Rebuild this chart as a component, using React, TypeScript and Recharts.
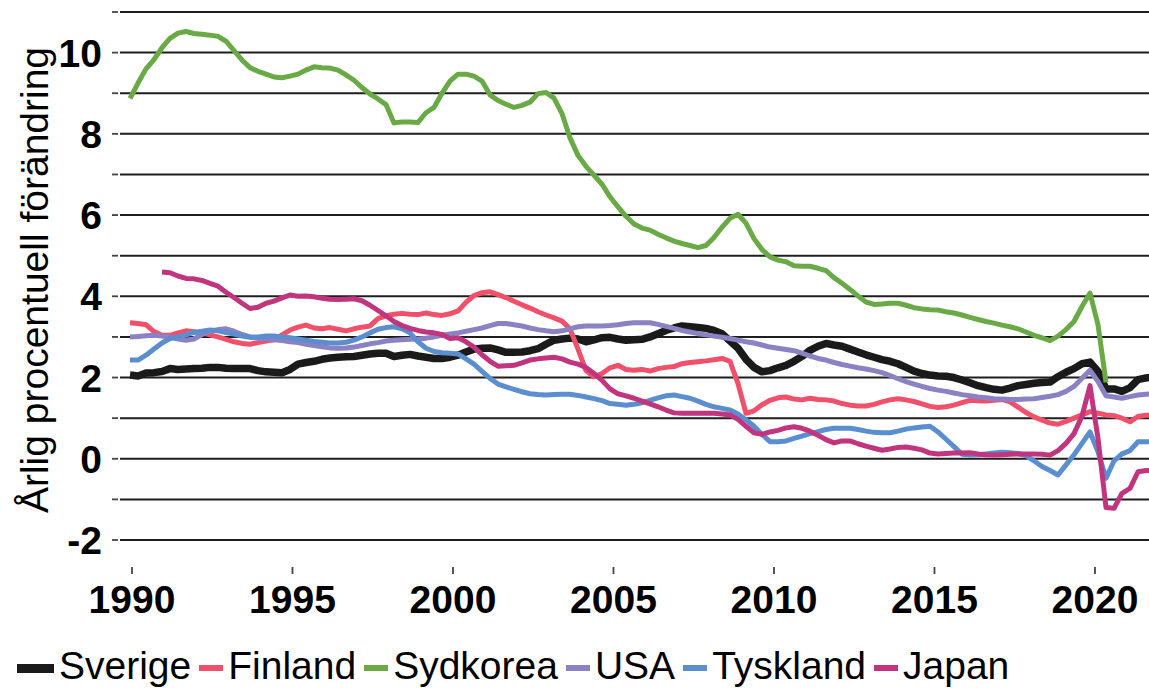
import React from 'react';
import { LineChart, Line, XAxis, YAxis, CartesianGrid, Label } from 'recharts';

const FONT = '"Liberation Sans", Arial, Helvetica, sans-serif';

// Quarterly observation points, 1990 Q1 onwards
const quarters: number[] = Array.from({ length: 129 }, (_, i) => 1990 + i / 4);
const yearTicks = [1990, 1995, 2000, 2005, 2010, 2015, 2020];
const valueTicks = [-2, -1, 0, 1, 2, 3, 4, 5, 6, 7, 8, 9, 10, 11];
const yTitle = 'Årlig procentuell förändring';

const sverige = [
  2.06, 2.04, 2.11, 2.12, 2.15, 2.22, 2.2, 2.21, 2.22, 2.23,
  2.25, 2.25, 2.23, 2.22, 2.22, 2.22, 2.17, 2.14, 2.13, 2.12,
  2.2, 2.33, 2.37, 2.4, 2.45, 2.48, 2.5, 2.51, 2.52, 2.55,
  2.58, 2.6, 2.6, 2.52, 2.55, 2.57, 2.53, 2.5, 2.47, 2.47,
  2.5, 2.55, 2.63, 2.7, 2.72, 2.73, 2.68, 2.62, 2.62, 2.63,
  2.66, 2.71, 2.82, 2.92, 2.95, 2.97, 2.95, 2.88, 2.93, 2.98,
  2.99, 2.95, 2.92, 2.93, 2.94, 3.0, 3.08, 3.16, 3.22, 3.27,
  3.25, 3.23, 3.21, 3.16, 3.08, 2.9, 2.72, 2.45, 2.25, 2.14,
  2.17, 2.24, 2.3, 2.4, 2.52, 2.67, 2.77, 2.84, 2.8, 2.77,
  2.7, 2.63, 2.56, 2.5, 2.44, 2.4, 2.34, 2.25, 2.16, 2.1,
  2.06, 2.04, 2.03, 2.0, 1.94, 1.87, 1.8, 1.75, 1.71, 1.69,
  1.74, 1.8, 1.83, 1.86, 1.88, 1.89, 2.02, 2.13, 2.22, 2.34,
  2.38, 2.15, 1.72, 1.72, 1.66, 1.75, 1.95, 1.99, 2.02,
];

const finland = [
  3.35, 3.33, 3.3, 3.13, 3.04, 3.04, 3.1, 3.15, 3.13, 3.1,
  3.05, 3.0, 2.94, 2.88, 2.84, 2.82, 2.86, 2.9, 2.93, 3.05,
  3.17, 3.24, 3.29, 3.22, 3.2, 3.23, 3.19, 3.15, 3.2, 3.24,
  3.27, 3.45, 3.52, 3.56, 3.58, 3.56, 3.55, 3.59, 3.55, 3.53,
  3.57, 3.64, 3.85, 4.02, 4.09, 4.11, 4.04, 3.97, 3.88, 3.79,
  3.71, 3.62, 3.54, 3.47, 3.39, 3.2, 2.7, 2.17, 2.02, 2.1,
  2.24, 2.3, 2.2, 2.18, 2.2, 2.16, 2.22, 2.25, 2.27, 2.34,
  2.37, 2.39, 2.41, 2.44, 2.47, 2.4, 1.85, 1.12, 1.18, 1.33,
  1.44, 1.5, 1.52, 1.47, 1.45, 1.49, 1.46, 1.45, 1.42, 1.36,
  1.32, 1.3, 1.3, 1.34, 1.4, 1.45, 1.48, 1.45, 1.41, 1.35,
  1.29, 1.26, 1.28, 1.32, 1.38, 1.44, 1.43, 1.42, 1.44, 1.46,
  1.4, 1.27, 1.14, 1.03, 0.95, 0.88, 0.85, 0.92, 1.0, 1.08,
  1.16, 1.12, 1.08, 1.06, 1.0, 0.91, 1.04, 1.07, 1.08,
];

const sydkorea: (number | null)[] = [
  8.87, 9.25, 9.6, 9.83, 10.12, 10.35, 10.48, 10.52, 10.47, 10.45,
  10.43, 10.4, 10.28, 10.05, 9.82, 9.63, 9.54, 9.47, 9.4, 9.38,
  9.42, 9.47, 9.57, 9.65, 9.63, 9.62, 9.57, 9.45, 9.32, 9.14,
  8.98, 8.86, 8.72, 8.27, 8.29, 8.29, 8.28, 8.52, 8.65, 9.0,
  9.3, 9.47, 9.47, 9.42, 9.3, 8.96, 8.82, 8.73, 8.65, 8.7,
  8.78, 8.99, 9.02, 8.88, 8.5, 7.9, 7.47, 7.2, 6.98, 6.76,
  6.45, 6.2, 5.97, 5.78, 5.68, 5.63, 5.53, 5.44, 5.36, 5.3,
  5.25, 5.2, 5.25, 5.45, 5.7, 5.92, 6.02, 5.8, 5.42, 5.15,
  4.97, 4.89, 4.85, 4.75, 4.74, 4.74, 4.69, 4.63, 4.46, 4.32,
  4.17, 4.01, 3.86, 3.8, 3.81, 3.83, 3.83, 3.78, 3.72, 3.69,
  3.67, 3.66, 3.62, 3.59, 3.54, 3.48, 3.43, 3.38, 3.34, 3.29,
  3.25, 3.2, 3.12, 3.04, 2.98, 2.91, 3.02, 3.18, 3.38, 3.75,
  4.08, 3.3, 1.88, null, null, null, null, null, null,
];

const usa = [
  3.0, 3.01, 3.03, 3.04, 3.02, 2.99, 2.95, 2.92, 2.95, 3.06,
  3.14, 3.18, 3.2, 3.14, 3.06, 3.0, 2.97, 2.95, 2.93, 2.91,
  2.88, 2.86, 2.82, 2.79, 2.76, 2.73, 2.72, 2.73, 2.75, 2.79,
  2.83, 2.86, 2.9, 2.92, 2.93, 2.94, 2.95, 2.97, 3.0, 3.04,
  3.07, 3.1, 3.14, 3.18, 3.22, 3.28, 3.33, 3.33, 3.3, 3.27,
  3.22, 3.18, 3.15, 3.13, 3.15, 3.2, 3.25, 3.27, 3.27, 3.27,
  3.28, 3.3, 3.33, 3.35, 3.35, 3.35, 3.31, 3.26, 3.21, 3.16,
  3.12, 3.08, 3.05, 3.02, 2.99, 2.96, 2.92, 2.88, 2.85, 2.8,
  2.75, 2.72, 2.69, 2.66, 2.6, 2.53, 2.47, 2.43, 2.37, 2.32,
  2.28, 2.24, 2.21, 2.17, 2.12, 2.05, 1.97, 1.9, 1.84, 1.78,
  1.73, 1.69, 1.66, 1.62, 1.58, 1.55, 1.52, 1.5, 1.48, 1.47,
  1.46, 1.46, 1.47, 1.48, 1.51, 1.54, 1.58, 1.66, 1.78, 1.98,
  2.18, 1.9, 1.55, 1.52, 1.49, 1.53, 1.57, 1.59, 1.6,
];

const tyskland = [
  2.43, 2.43, 2.55, 2.7, 2.85, 2.96, 3.0, 3.05, 3.11, 3.14,
  3.17, 3.15, 3.11, 3.07, 3.02, 2.99, 3.0, 3.02, 3.02, 3.0,
  2.98, 2.95, 2.92, 2.89, 2.87, 2.85, 2.85, 2.87, 2.92, 3.0,
  3.1, 3.19, 3.23, 3.25, 3.2, 3.1, 2.88, 2.72, 2.64, 2.61,
  2.6, 2.58, 2.46, 2.33, 2.15, 1.98, 1.84, 1.77, 1.71, 1.65,
  1.6, 1.58, 1.57, 1.58, 1.59, 1.59, 1.56, 1.52, 1.48, 1.43,
  1.36, 1.34, 1.32, 1.34, 1.38, 1.44, 1.5, 1.55, 1.57, 1.53,
  1.49, 1.42, 1.34, 1.28, 1.24, 1.2, 1.1, 0.96, 0.8, 0.6,
  0.42, 0.42, 0.44, 0.5, 0.56, 0.62, 0.67, 0.72, 0.75, 0.75,
  0.75, 0.72, 0.68, 0.65, 0.64, 0.64, 0.68, 0.73, 0.76, 0.78,
  0.8, 0.66, 0.48, 0.3, 0.11, 0.09, 0.1, 0.12, 0.14, 0.16,
  0.15, 0.13, 0.08, -0.05, -0.19, -0.29, -0.4, -0.15, 0.1, 0.38,
  0.66, 0.17, -0.48, -0.05, 0.12, 0.2, 0.42, 0.42, 0.42,
];

const japan: (number | null)[] = [
  null, null, null, null, 4.6, 4.58, 4.5, 4.44, 4.43, 4.39,
  4.32, 4.25, 4.1, 3.97, 3.83, 3.7, 3.73, 3.83, 3.88, 3.96,
  4.03, 4.0, 4.01, 3.99, 3.95, 3.93, 3.92, 3.93, 3.94, 3.89,
  3.78, 3.65, 3.52, 3.38, 3.28, 3.21, 3.16, 3.12, 3.1, 3.06,
  2.96, 2.98, 2.88, 2.75, 2.56, 2.4, 2.28, 2.29, 2.3, 2.36,
  2.43, 2.46, 2.48, 2.5, 2.46, 2.38, 2.33, 2.25, 2.1, 1.93,
  1.72, 1.6, 1.55, 1.49, 1.42, 1.35, 1.28, 1.2, 1.13, 1.12,
  1.12, 1.12, 1.12, 1.12, 1.1, 1.08, 0.97, 0.8, 0.64, 0.6,
  0.66, 0.7, 0.76, 0.79, 0.75, 0.68, 0.58, 0.47, 0.39, 0.44,
  0.44, 0.37, 0.31, 0.26, 0.21, 0.24, 0.28, 0.29, 0.26, 0.22,
  0.14, 0.12, 0.13, 0.14, 0.14, 0.15, 0.12, 0.1, 0.09, 0.1,
  0.11, 0.12, 0.12, 0.12, 0.11, 0.09, 0.2, 0.38, 0.62, 1.05,
  1.8, 0.5, -1.2, -1.22, -0.85, -0.73, -0.32, -0.29, -0.28,
];

const seriesDefs = [
  { key: 'sverige', name: 'Sverige', values: sverige, color: '#1a1a1a', width: 7.5, swatchW: 37, swatchH: 9 },
  { key: 'finland', name: 'Finland', values: finland, color: '#f0506a', width: 5, swatchW: 24, swatchH: 6 },
  { key: 'sydkorea', name: 'Sydkorea', values: sydkorea, color: '#6aaa46', width: 5, swatchW: 24, swatchH: 6 },
  { key: 'usa', name: 'USA', values: usa, color: '#8a82c2', width: 5, swatchW: 24, swatchH: 6 },
  { key: 'tyskland', name: 'Tyskland', values: tyskland, color: '#5a8ecf', width: 5, swatchW: 24, swatchH: 6 },
  { key: 'japan', name: 'Japan', values: japan, color: '#c1357f', width: 5, swatchW: 24, swatchH: 6 },
];

const data = quarters.map((x, i) => {
  const row: Record<string, number | null> = { x };
  seriesDefs.forEach((s) => {
    row[s.key] = s.values[i] ?? null;
  });
  return row;
});

const YTick = (props: any) => {
  const { y, payload } = props;
  const v = payload.value as number;
  const show = v % 2 === 0 && v <= 10;
  return (
    <g>
      <line x1={112} x2={118} y1={y} y2={y} stroke="#444" strokeWidth={1.8} />
      {show ? (
        <text x={102} y={y + 14} textAnchor="end" fontFamily={FONT} fontSize={39} fontWeight="bold" fill="#000">
          {v}
        </text>
      ) : null}
    </g>
  );
};

const XTick = (props: any) => {
  const { x, payload } = props;
  return (
    <g>
      <line x1={x} x2={x} y1={567} y2={574} stroke="#444" strokeWidth={1.8} />
      <text x={x} y={613} textAnchor="middle" fontFamily={FONT} fontSize={39} fontWeight="bold" fill="#000">
        {Math.round(payload.value)}
      </text>
    </g>
  );
};

const TitleLabel = () => (
  <text
    transform="translate(48,280) rotate(-90)"
    textAnchor="middle"
    fontFamily={FONT}
    fontSize={39}
    fill="#000"
  >
    {yTitle}
  </text>
);

export default function App() {
  return (
    <div style={{ position: 'absolute', left: 0, top: 0, width: 1149, height: 689, background: '#fff', overflow: 'hidden' }}>
      <LineChart width={1149} height={689} data={data} margin={{ top: 12, right: 0, bottom: 0, left: 0 }}>
        <CartesianGrid vertical={false} stroke="#1e1e1e" strokeWidth={2} />
        <XAxis
          type="number"
          dataKey="x"
          domain={[1989.6875, 2021.84375]}
          allowDataOverflow
          ticks={yearTicks.map((yr) => yr + 0.0625 + 0.0031 * (yr - 1990))}
          interval={0}
          tick={<XTick />}
          tickLine={false}
          axisLine={false}
          height={149}
        />
        <YAxis
          type="number"
          domain={[-2, 11]}
          ticks={valueTicks}
          interval={0}
          width={120}
          tick={<YTick />}
          tickLine={false}
          axisLine={false}
        >
          <Label content={<TitleLabel />} />
        </YAxis>
        {seriesDefs.map((s) => (
          <Line
            key={s.key}
            type="linear"
            dataKey={s.key}
            name={s.name}
            stroke={s.color}
            strokeWidth={s.width}
            dot={false}
            activeDot={false}
            isAnimationActive={false}
            connectNulls={false}
            strokeLinejoin="round"
          />
        ))}
      </LineChart>
      <div
        style={{
          position: 'absolute',
          left: 17,
          top: 643,
          height: 46,
          display: 'flex',
          alignItems: 'center',
          fontFamily: FONT,
          fontSize: 39,
          lineHeight: '46px',
          color: '#000',
          whiteSpace: 'nowrap',
        }}
      >
        {seriesDefs.map((s) => (
          <div key={s.key} style={{ display: 'flex', alignItems: 'center', marginRight: 8 }}>
            <div style={{ width: s.swatchW, height: s.swatchH, background: s.color, marginRight: 5, position: 'relative', top: 2 }} />
            <span>{s.name}</span>
          </div>
        ))}
      </div>
    </div>
  );
}
